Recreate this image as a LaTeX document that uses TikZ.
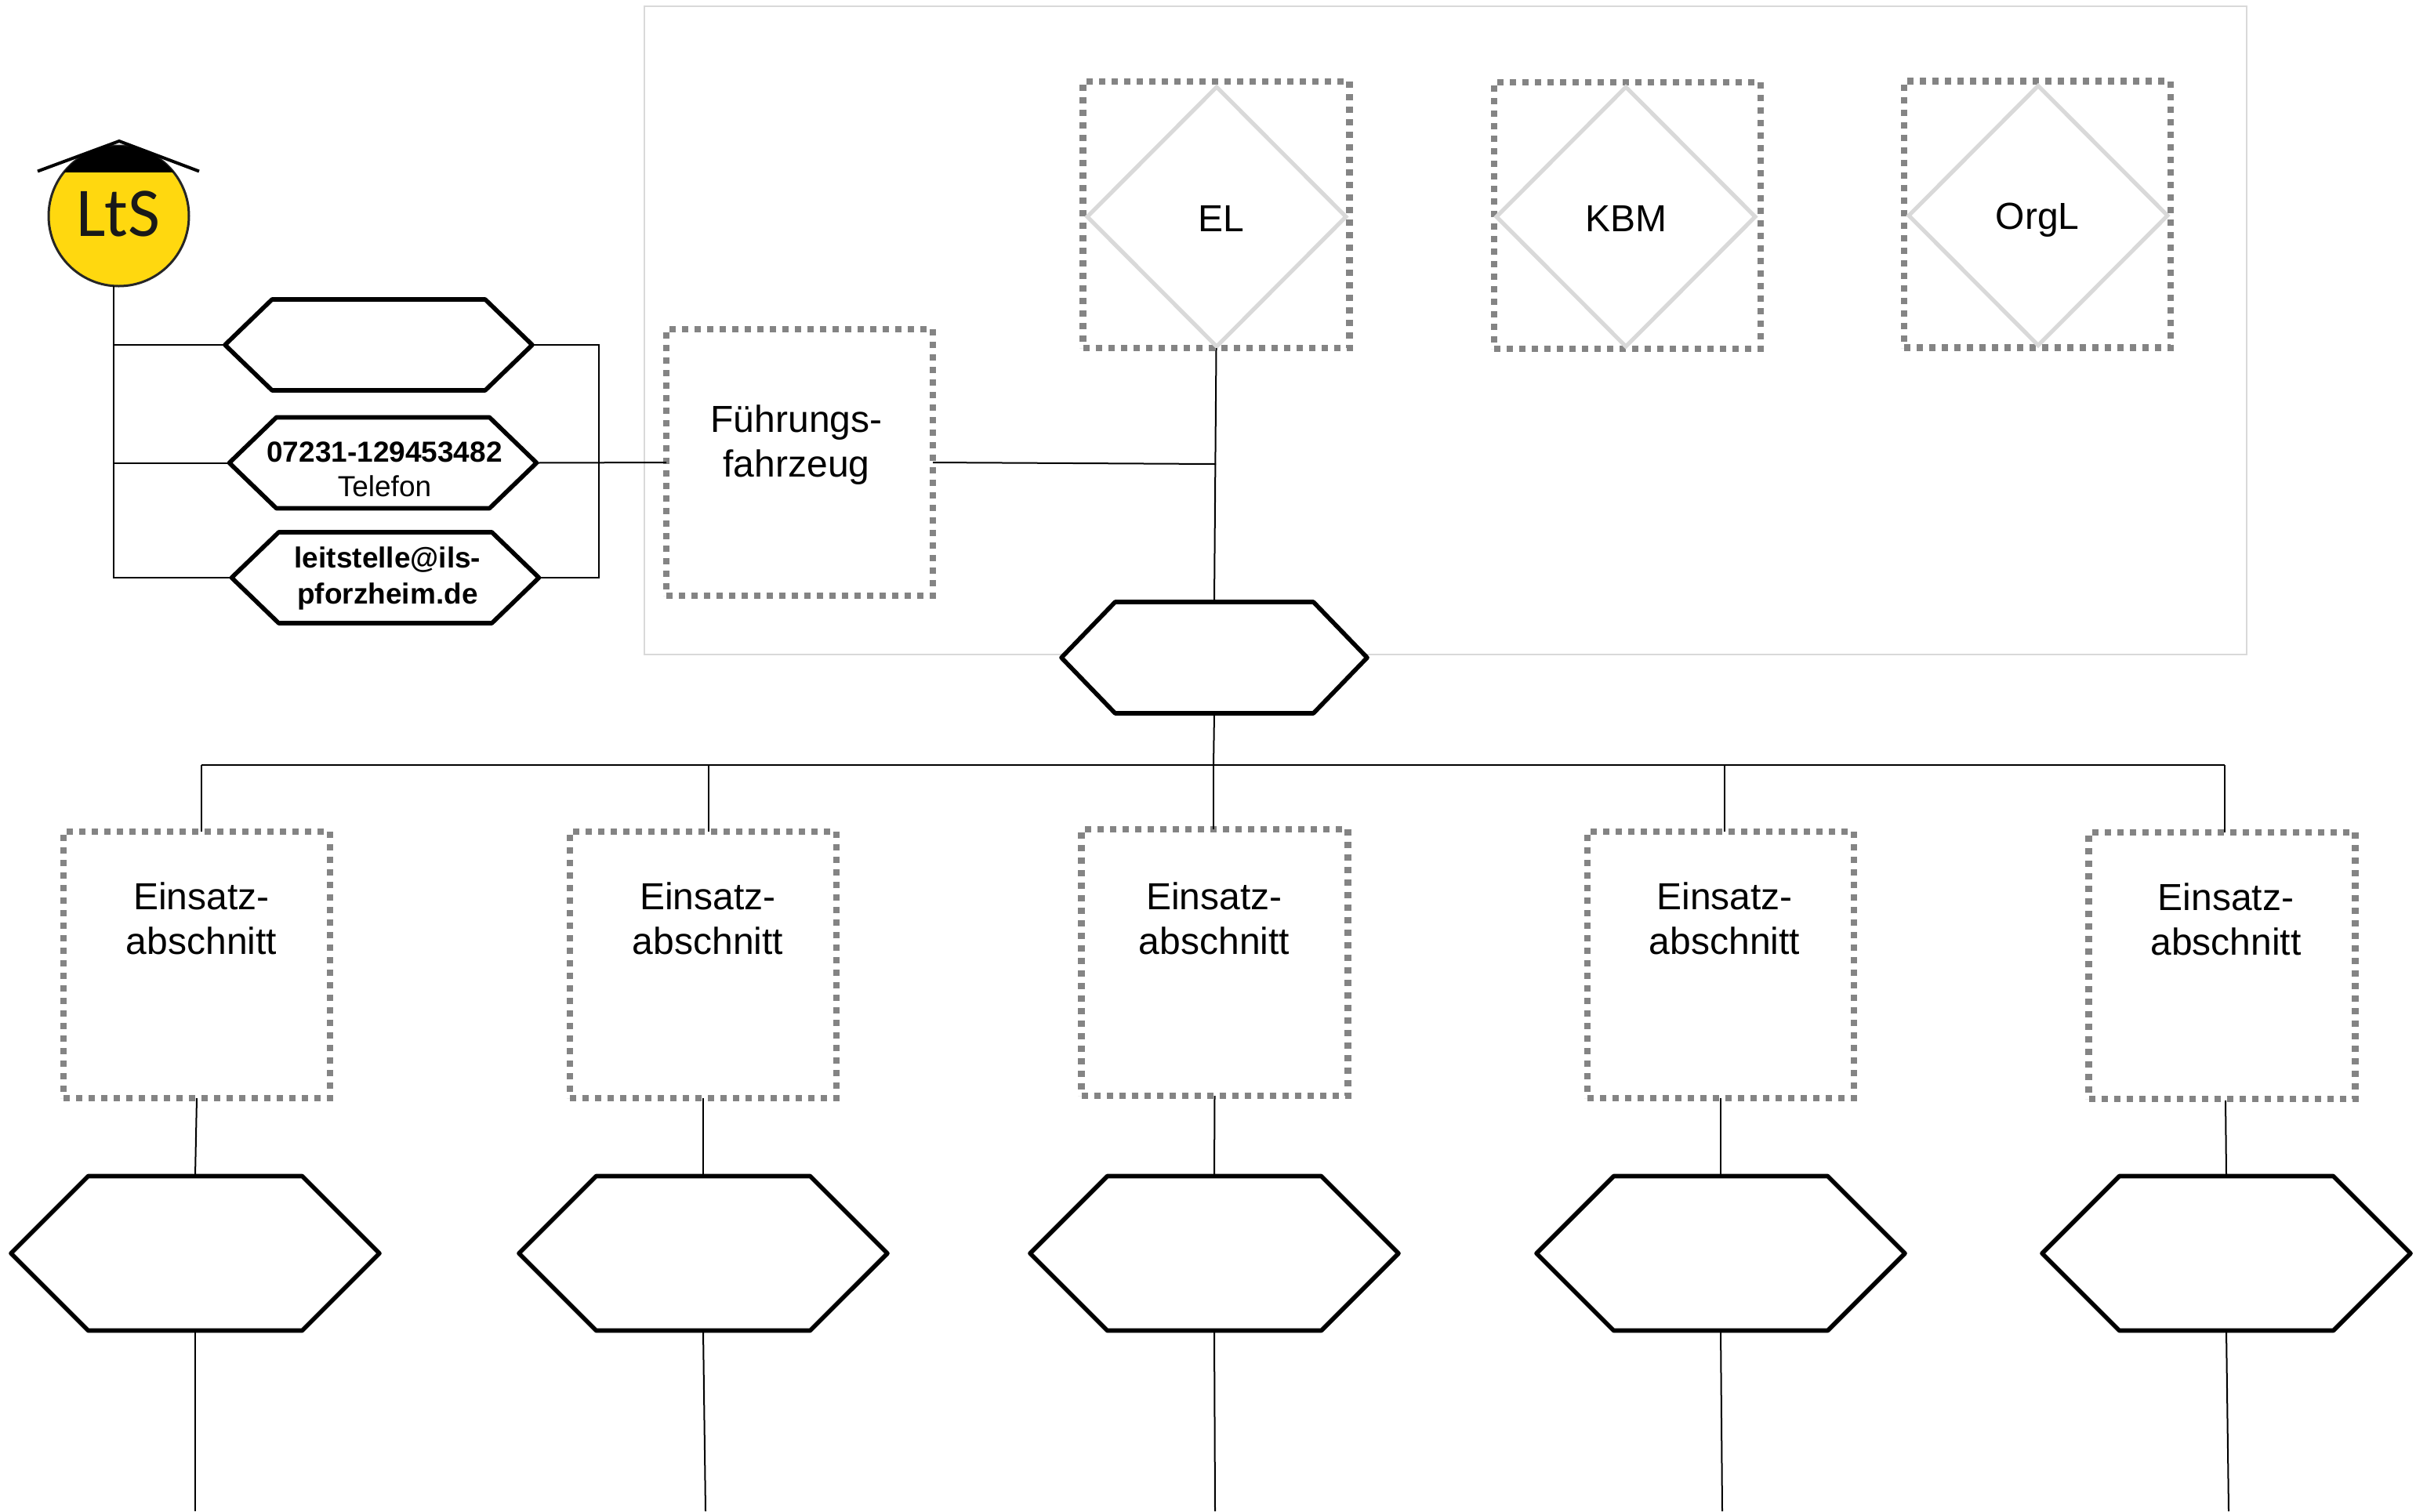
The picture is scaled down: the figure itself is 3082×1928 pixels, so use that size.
\documentclass[tikz,border=0pt]{standalone}
\usepackage{fontspec}
\setmainfont{Liberation Sans}
\newfontfamily\logofont{Carlito}
\usetikzlibrary{shapes.geometric,shapes.symbols,calc}
\definecolor{dotgrey}{HTML}{848484}
\definecolor{lightline}{HTML}{D9D9D9}
\definecolor{logoyellow}{HTML}{FFD80F}
\tikzset{
  frameline/.style={draw=lightline,line width=.75pt},
  dotbox/.style={rectangle,draw=dotgrey,line width=4.2pt,dash pattern=on 4pt off 4pt,minimum width=170pt,minimum height=170pt,inner sep=0pt,outer sep=0pt},
  diam/.style={diamond,aspect=1,draw=lightline,line width=2.6pt,minimum width=165pt,minimum height=165.5pt,inner sep=0pt,outer sep=0pt},
  hexbase/.style={signal,signal to=west and east,draw=black,line width=2.8pt,fill=white,inner sep=0pt,outer sep=0pt,align=center,line join=round},
  hexsmall/.style={hexbase,minimum width=196pt,minimum height=58pt,signal pointer angle=88},
  hexmid/.style={hexbase,minimum width=195pt,minimum height=71pt,signal pointer angle=92},
  hexbig/.style={hexbase,minimum width=235pt,minimum height=98.5pt,signal pointer angle=90},
  lbl/.style={font=\fontsize{24}{28.5}\selectfont,align=center,inner sep=0pt},
  conn/.style={draw=black,line width=1pt},
}
\begin{document}
\begin{tikzpicture}[x=0.5pt,y=-0.5pt]
\useasboundingbox (0,0) rectangle (3082,1928);
% frame
\draw[frameline] (822,8) rectangle (2866,835);
% logo
\node[circle,draw=black!85,line width=1.5pt,fill=logoyellow,minimum size=89.5pt,inner sep=0pt,outer sep=0pt] (logo) at (151.5,275.5) {};
\begin{scope}
  \clip (62,170) rectangle (241,219);
  \fill[black] (151.5,275.5) circle[radius=44.75pt];
\end{scope}
\draw[black,line width=2pt] (48,218.5) -- (152,180) -- (254,218.5);
\node[font=\logofont\fontsize{44.5}{44.5}\selectfont,text=black!90,inner sep=0pt] (logotext) at (151,273) {LtS};
% left hexagons
\node[hexsmall] (ha) at (483,440) {};
\node[hexsmall] (hb) at (488.5,590.5) {};
\node[hexsmall] (hc) at (491.5,737) {};
\node[font=\fontsize{18.5}{22}\selectfont,align=center,inner sep=0pt] (hbt) at (490.5,598.5) {\textbf{07231-129453482}\\Telefon};
\node[font=\bfseries\fontsize{18.5}{22.7}\selectfont,align=center,inner sep=0pt] (hct) at (494.5,738) {leitstelle@ils-\\pforzheim.de};
% upper boxes
\node[dotbox] (fz) at (1020,590) {};
\node[lbl] (fzt) at (1016,567.5) {Führungs-\\fahrzeug};
\node[dotbox] (el) at (1551.5,274) {};
\node[diam] (eld) at (1552,276.5) {};
\node[lbl] (elt) at (1558,279) {EL};
\node[dotbox] (kbm) at (2076,275) {};
\node[diam] (kbmd) at (2074,276.5) {};
\node[lbl] (kbmt) at (2074,279) {KBM};
\node[dotbox] (org) at (2599,273.5) {};
\node[diam] (orgd) at (2600,275) {};
\node[lbl] (orgt) at (2599,281) {OrgL};
\node[hexmid] (hm) at (1549,839) {};
% lower boxes
\node[dotbox] (b1) at (251,1231) {};
\node[dotbox] (b2) at (897,1231) {};
\node[dotbox] (b3) at (1549.5,1228) {};
\node[dotbox] (b4) at (2195,1231) {};
\node[dotbox] (b5) at (2834.5,1232) {};
\node[lbl] (t1) at (257,1172) {Einsatz-\\abschnitt};
\node[lbl] (t2) at (903,1172) {Einsatz-\\abschnitt};
\node[lbl] (t3) at (1549,1172) {Einsatz-\\abschnitt};
\node[lbl] (t4) at (2200,1172) {Einsatz-\\abschnitt};
\node[lbl] (t5) at (2839.5,1173) {Einsatz-\\abschnitt};
% lower hexagons
\node[hexbig] (h1) at (249,1599) {};
\node[hexbig] (h2) at (897,1599) {};
\node[hexbig] (h3) at (1549,1599) {};
\node[hexbig] (h4) at (2195,1599) {};
\node[hexbig] (h5) at (2840,1599) {};
% free coordinates
\coordinate (spine) at (145,365);
\coordinate (rail) at (763.5,590);
\coordinate (join) at (1551,592);
\coordinate (bus1) at (257,976);
\coordinate (bus2) at (904,976);
\coordinate (bus3) at (1548,976);
\coordinate (bus4) at (2200,976);
\coordinate (bus5) at (2838,976);
\coordinate (e1) at (249,1928);
\coordinate (e2) at (900,1928);
\coordinate (e3) at (1550,1928);
\coordinate (e4) at (2197,1928);
\coordinate (e5) at (2843,1928);
\coordinate (s5) at (2839,1404);
% connectors
\draw[conn] (spine) -- (spine |- hc.west) -- (hc.west);
\draw[conn] (spine |- ha.west) -- (ha.west);
\draw[conn] (spine |- hb.west) -- (hb.west);
\draw[conn] (ha.east) -- (rail |- ha.east) -- (rail |- hc.east) -- (hc.east);
\draw[conn] (hb.east) -- (fz.west);
\draw[conn] (fz.east) -- (join);
\draw[conn] (el.south) -- (hm.north);
\draw[conn] (hm.south) -- (bus3);
\draw[conn] (bus1) -- (bus5);
\foreach \i in {1,...,5}{
  \draw[conn] (bus\i) -- (bus\i |- b\i.north);
  \draw[conn] (h\i.south) -- (e\i);
}
\foreach \i in {1,...,4}{
  \draw[conn] (b\i.south) -- (h\i.north);
}
\draw[conn] (s5) -- (h5.north);
\end{tikzpicture}
\end{document}
